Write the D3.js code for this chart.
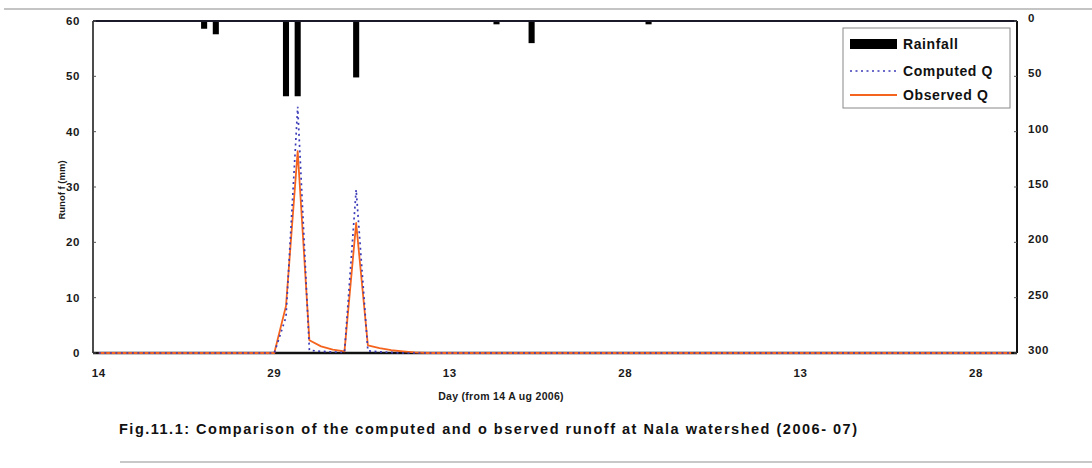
<!DOCTYPE html>
<html>
<head>
<meta charset="utf-8">
<script src="https://cdn.jsdelivr.net/npm/d3@7"></script>
<style>
  html, body { margin: 0; padding: 0; background: #fff; }
  svg { display: block; font-family: "Liberation Sans", Arial, sans-serif; }
</style>
</head>
<body>
<svg id="chart" width="1092" height="468"></svg>
<script>
// ---- data (79 days, 14 Aug 2006 .. 31 Oct 2006) ----
const startDate = new Date(2006, 7, 14);
const endDate = new Date(2006, 10, 1);
const days = d3.timeDays(startDate, endDate);            // categories
const tickEvery = 15;

const rainfall = [
  0,0,0,0,0,0,0,0,0,7,
  12,0,0,0,0,0,68,68,0,0,
  0,0,51,0,0,0,0,0,0,0,
  0,0,0,0,3,0,0,20,0,0,
  0,0,0,0,0,0,0,3,0,0,
  0,0,0,0,0,0,0,0,0,0,
  0,0,0,0,0,0,0,0,0,0,
  0,0,0,0,0,0,0,0,0
];
const computedQ = [
  0,0,0,0,0,0,0,0,0,0,
  0,0,0,0,0,0,6.5,44.5,0.5,0.3,
  0.2,0.1,29.5,0.4,0.2,0.1,0,0,0,0,
  0,0,0,0,0,0,0,0,0,0,
  0,0,0,0,0,0,0,0,0,0,
  0,0,0,0,0,0,0,0,0,0,
  0,0,0,0,0,0,0,0,0,0,
  0,0,0,0,0,0,0,0,0
];
const observedQ = [
  0,0,0,0,0,0,0,0,0,0,
  0,0,0,0,0,0,8.5,36.5,2.3,1.2,
  0.6,0.3,23.5,1.4,0.9,0.5,0.3,0.1,0,0,
  0,0,0,0,0,0,0,0,0,0,
  0,0,0,0,0,0,0,0,0,0,
  0,0,0,0,0,0,0,0,0,0,
  0,0,0,0,0,0,0,0,0,0,
  0,0,0,0,0,0,0,0,0
];
const runoffTicks = [0,10,20,30,40,50,60];
const rainTicks = [0,50,100,150,200,250,300];
const legendLabels = ["Rainfall", "Computed Q", "Observed Q"];
const xTitle = "Day (from 14 A ug 2006)";
const yTitle = "Runof f (mm)";
const figTitle = "Fig.11.1: Comparison of the computed and o bserved runoff at Nala watershed (2006- 07)";

// ---- layout ----
const L = 93, R = 1017, T = 21, B = 353;
const svg = d3.select("#chart");

const idx = d3.range(days.length);
const x = d3.scaleBand().domain(idx).range([L, R]).paddingInner(0.48).paddingOuter(0.24);
const cx = i => x(i) + x.bandwidth() / 2;
const y = d3.scaleLinear().domain([0, 60]).range([B, T]);
const yr = d3.scaleLinear().domain([0, 300]).range([T, B]);

const BLUE = "#3b3bb8", ORANGE = "#f5641e";

// outer page lines
svg.append("line").attr("x1", 4).attr("x2", 1092).attr("y1", 9).attr("y2", 9)
  .attr("stroke", "#c4c4c4").attr("stroke-width", 2);
svg.append("line").attr("x1", 120).attr("x2", 1092).attr("y1", 462).attr("y2", 462)
  .attr("stroke", "#c8c8c8").attr("stroke-width", 2);

// rainfall bars (hanging from top)
svg.append("g").selectAll("rect").data(rainfall).join("rect")
  .attr("x", (d, i) => x(i))
  .attr("y", yr(0))
  .attr("width", x.bandwidth())
  .attr("height", d => yr(d) - yr(0))
  .attr("fill", "#000");

// x axis line (visible where observed leaves zero)
svg.append("line").attr("x1", L).attr("x2", R).attr("y1", B).attr("y2", B)
  .attr("stroke", "#111").attr("stroke-width", 2.5);

// frame: top, left, right
svg.append("line").attr("x1", L).attr("x2", R).attr("y1", T).attr("y2", T)
  .attr("stroke", "#1a1a2a").attr("stroke-width", 2);
svg.append("line").attr("x1", L).attr("x2", L).attr("y1", T).attr("y2", B)
  .attr("stroke", "#111").attr("stroke-width", 1.5);
svg.append("line").attr("x1", R).attr("x2", R).attr("y1", T).attr("y2", B)
  .attr("stroke", "#111").attr("stroke-width", 2);

// left axis ticks + labels
const gl = svg.append("g");
gl.selectAll("line").data(runoffTicks).join("line")
  .attr("x1", L).attr("x2", L + 3).attr("y1", d => y(d)).attr("y2", d => y(d))
  .attr("stroke", "#555").attr("stroke-width", 1);
gl.selectAll("text").data(runoffTicks).join("text")
  .attr("x", 80).attr("y", d => y(d)).attr("dy", "0.35em")
  .attr("text-anchor", "end").attr("font-size", 11.5).attr("font-weight", "bold")
  .attr("letter-spacing", 0.6).attr("fill", "#1a1a1a")
  .text(d => d);

// right axis ticks + labels
const gr = svg.append("g");
gr.selectAll("line").data(rainTicks).join("line")
  .attr("x1", R - 3).attr("x2", R).attr("y1", d => yr(d)).attr("y2", d => yr(d))
  .attr("stroke", "#555").attr("stroke-width", 1);
gr.selectAll("text").data(rainTicks).join("text")
  .attr("x", 1028).attr("y", d => yr(d) - 3).attr("dy", "0.35em")
  .attr("text-anchor", "start").attr("font-size", 11.5).attr("font-weight", "bold")
  .attr("letter-spacing", 0.6).attr("fill", "#1a1a1a")
  .text(d => d);

// x tick labels
const fmt = d3.timeFormat("%-d");
const xt = idx.filter(i => i % tickEvery === 0);
svg.append("g").selectAll("text").data(xt).join("text")
  .attr("x", i => cx(i)).attr("y", 377)
  .attr("text-anchor", "middle").attr("font-size", 11.5).attr("font-weight", "bold")
  .attr("letter-spacing", 0.6).attr("fill", "#1a1a1a")
  .text(i => fmt(days[i]));

// lines
const lineGen = d3.line().x((d, i) => cx(i)).y(d => y(d));
svg.append("path").datum(observedQ).attr("d", lineGen)
  .attr("fill", "none").attr("stroke", ORANGE).attr("stroke-width", 1.8)
  .attr("stroke-linejoin", "round");
svg.append("path").datum(computedQ).attr("d", lineGen)
  .attr("fill", "none").attr("stroke", BLUE).attr("stroke-width", 1.7)
  .attr("stroke-dasharray", "2,3.5");

// axis titles
svg.append("text").attr("x", 501).attr("y", 400).attr("text-anchor", "middle")
  .attr("font-size", 10.5).attr("font-weight", "bold").attr("fill", "#1a1a1a")
  .attr("letter-spacing", 0.3).text(xTitle);
svg.append("text").attr("transform", "translate(65,190) rotate(-90)")
  .attr("text-anchor", "middle").attr("font-size", 9.5).attr("font-weight", "bold")
  .attr("fill", "#1a1a1a").text(yTitle);

// figure caption
svg.append("text").attr("x", 119).attr("y", 434)
  .attr("font-size", 14.5).attr("font-weight", "bold").attr("fill", "#111")
  .attr("textLength", 738).attr("lengthAdjust", "spacing")
  .text(figTitle);

// legend
const lg = svg.append("g");
lg.append("rect").attr("x", 843).attr("y", 28).attr("width", 167).attr("height", 80)
  .attr("fill", "#fff").attr("stroke", "#888").attr("stroke-width", 1);
const rows = [44, 71, 95];
lg.append("rect").attr("x", 850).attr("y", rows[0] - 5).attr("width", 47).attr("height", 10).attr("fill", "#000");
lg.append("line").attr("x1", 850).attr("x2", 897).attr("y1", rows[1]).attr("y2", rows[1])
  .attr("stroke", BLUE).attr("stroke-width", 1.6).attr("stroke-dasharray", "2,3.5");
lg.append("line").attr("x1", 850).attr("x2", 897).attr("y1", rows[2]).attr("y2", rows[2])
  .attr("stroke", ORANGE).attr("stroke-width", 1.8);
lg.selectAll("text").data(legendLabels).join("text")
  .attr("x", 903).attr("y", (d, i) => rows[i]).attr("dy", "0.36em")
  .attr("font-size", 14).attr("font-weight", "bold").attr("fill", "#111")
  .attr("letter-spacing", 0.6)
  .text(d => d);
</script>
</body>
</html>
